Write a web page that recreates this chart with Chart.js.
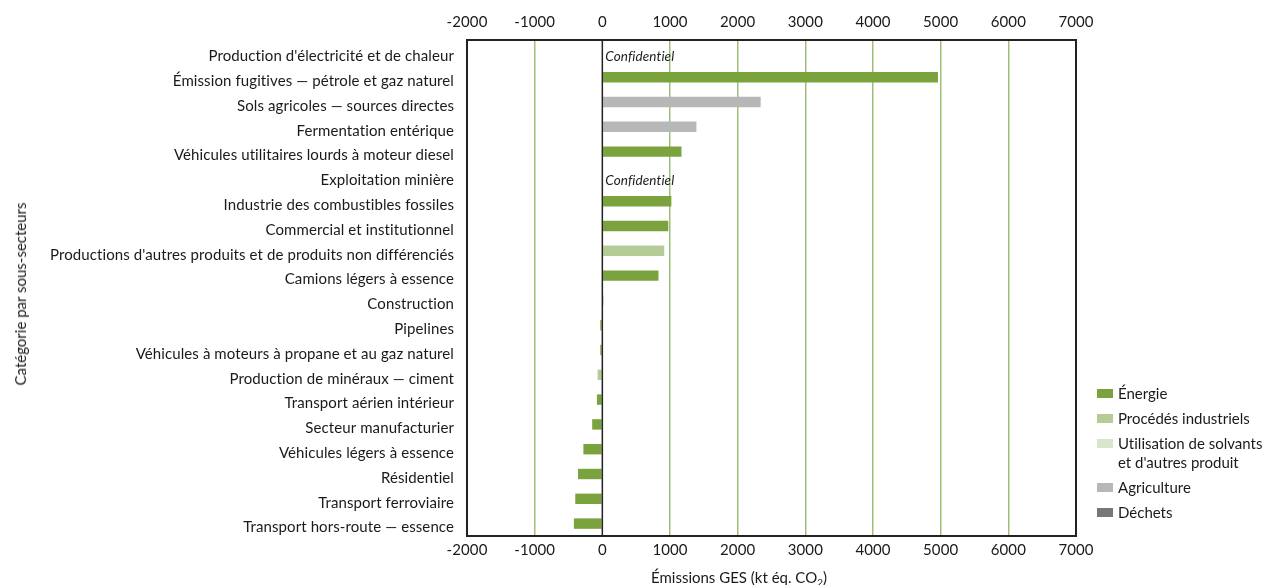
<!DOCTYPE html>
<html lang="fr">
<head>
<meta charset="utf-8">
<script src="https://cdn.jsdelivr.net/npm/chart.js@4/dist/chart.umd.min.js"></script>
<style>
  html, body { margin: 0; padding: 0; background: #fff; }
  #wrap { position: relative; width: 1265px; height: 585px; font-family: Lato, "Open Sans", sans-serif; color: #1a1a1a; font-variant-ligatures: none; }
  #c { position: absolute; left: 0; top: 0; }
  .ytitle { position: absolute; left: 20px; top: 294px; transform: translate(-50%, -50%) rotate(-90deg); font-size: 15px; font-weight: 400; white-space: nowrap; }
  .xtitle { position: absolute; left: 739px; top: 577px; transform: translate(-50%, -50%); font-size: 15px; white-space: nowrap; }
  .xtitle .sub { font-size: 10px; position: relative; top: 3px; }
  .legend { position: absolute; left: 1097px; top: 384px; font-size: 15px; line-height: 19px; }
  .legend .item { display: flex; align-items: flex-start; margin-bottom: 6px; }
  .legend .sw { width: 16px; height: 9px; margin-top: 5px; margin-right: 5px; flex: none; }
</style>
</head>
<body>
<div id="wrap">
  <canvas id="c" width="1265" height="585"></canvas>
  <div class="ytitle">Catégorie par sous-secteurs</div>
  <div class="xtitle">Émissions GES (kt éq. CO<span class="sub">2</span>)</div>
  <div class="legend" id="legend"></div>
</div>
<script>
// Sub-sector categories, top to bottom
const categories = [
  "Production d'électricité et de chaleur",
  "Émission fugitives — pétrole et gaz naturel",
  "Sols agricoles — sources directes",
  "Fermentation entérique",
  "Véhicules utilitaires lourds à moteur diesel",
  "Exploitation minière",
  "Industrie des combustibles fossiles",
  "Commercial et institutionnel",
  "Productions d'autres produits et de produits non différenciés",
  "Camions légers à essence",
  "Construction",
  "Pipelines",
  "Véhicules à moteurs à propane et au gaz naturel",
  "Production de minéraux — ciment",
  "Transport aérien intérieur",
  "Secteur manufacturier",
  "Véhicules légers à essence",
  "Résidentiel",
  "Transport ferroviaire",
  "Transport hors-route — essence"
];

// Emissions change (kt CO2 eq.) by sector; null where the category belongs to another sector
const energie = [null, 4960, null, null, 1170, null, 1020, 975, null, 830, 15, -30, -30, null, -80, -150, -280, -360, -400, -420];
const procedes = [null, null, null, null, null, null, null, null, 915, null, null, null, null, -70, null, null, null, null, null, null];
const solvants = new Array(20).fill(null);
const agriculture = [null, null, 2340, 1390, null, null, null, null, null, null, null, null, null, null, null, null, null, null, null, null];
const dechets = new Array(20).fill(null);

// Categories whose values are withheld
const confidentiel = [0, 5];

const xTicks = [-2000, -1000, 0, 1000, 2000, 3000, 4000, 5000, 6000, 7000];

const seriesNames = ["Énergie", "Procédés industriels", "Utilisation de solvants\net d'autres produit", "Agriculture", "Déchets"];
const seriesColors = ["#7aa33e", "#b5cc96", "#d9e6c9", "#b7b7b7", "#777777"];
const seriesData = [energie, procedes, solvants, agriculture, dechets];

const FONT = "Lato, 'Open Sans', sans-serif";
const TEXT = '#1a1a1a';

// a tiny letter spacing keeps Lato from joining "ti" / "fi" into ligatures
const textSetup = {
  id: 'textSetup',
  beforeInit(chart) { chart.ctx.letterSpacing = '0.1px'; },
  beforeDraw(chart) { chart.ctx.letterSpacing = '0.1px'; }
};

const frameAndLabels = {
  id: 'frameAndLabels',
  afterDatasetsDraw(chart) {
    const { ctx, chartArea: a, scales } = chart;
    ctx.save();
    // zero line
    const x0 = scales.x.getPixelForValue(0);
    ctx.strokeStyle = '#222';
    ctx.lineWidth = 1.5;
    ctx.beginPath();
    ctx.moveTo(x0, a.top);
    ctx.lineTo(x0, a.bottom);
    ctx.stroke();
    // plot frame
    ctx.lineWidth = 2;
    ctx.strokeRect(a.left, a.top, a.right - a.left, a.bottom - a.top);
    // "Confidentiel" notes
    ctx.fillStyle = '#222';
    ctx.font = "italic 13.5px " + FONT;
    ctx.textBaseline = 'middle';
    ctx.textAlign = 'left';
    confidentiel.forEach(i => {
      ctx.fillText('Confidentiel', x0 + 3, scales.y.getPixelForValue(i) + 4);
    });
    ctx.restore();
  }
};

const gridColor = (c) => {
  const v = c.tick && c.tick.value;
  if (v === -2000 || v === 7000 || v === 0) return 'rgba(0,0,0,0)';
  return '#9dbf78';
};

const plainTick = (v) => String(v);

new Chart(document.getElementById('c'), {
  type: 'bar',
  data: {
    labels: categories,
    datasets: seriesData.map((d, i) => ({
      label: seriesNames[i],
      data: d,
      backgroundColor: seriesColors[i],
      borderWidth: 0,
      barPercentage: 0.42,
      categoryPercentage: 1,
      xAxisID: 'x'
    }))
  },
  options: {
    indexAxis: 'y',
    responsive: false,
    animation: false,
    layout: { padding: { left: 0, right: 189, top: 0, bottom: 0 } },
    plugins: { legend: { display: false }, tooltip: { enabled: false } },
    scales: {
      x: {
        type: 'linear',
        position: 'bottom',
        min: -2000, max: 7000,
        afterBuildTicks: (s) => { s.ticks = xTicks.map(v => ({ value: v })); },
        afterFit: (s) => { s.height = 49; },
        grid: { color: gridColor, lineWidth: 1.5, drawTicks: false },
        border: { display: false },
        ticks: { color: TEXT, font: { family: FONT, size: 15 }, padding: 5, callback: plainTick }
      },
      x2: {
        type: 'linear',
        position: 'top',
        min: -2000, max: 7000,
        afterBuildTicks: (s) => { s.ticks = xTicks.map(v => ({ value: v })); },
        afterFit: (s) => { s.height = 40; },
        grid: { display: false, drawTicks: false },
        border: { display: false },
        ticks: { color: TEXT, font: { family: FONT, size: 15 }, padding: 9, callback: plainTick }
      },
      y: {
        stacked: true,
        afterFit: (s) => { s.width = 467; },
        grid: { display: false, drawTicks: false },
        border: { display: false },
        ticks: { color: TEXT, font: { family: FONT, size: 15 }, padding: 13, autoSkip: false, labelOffset: 4 }
      }
    }
  },
  plugins: [textSetup, frameAndLabels]
});

// Legend
const lg = document.getElementById('legend');
seriesNames.forEach((n, i) => {
  const it = document.createElement('div');
  it.className = 'item';
  const sw = document.createElement('div');
  sw.className = 'sw';
  sw.style.background = seriesColors[i];
  const tx = document.createElement('div');
  tx.innerHTML = n.replace('\n', '<br>');
  it.appendChild(sw);
  it.appendChild(tx);
  lg.appendChild(it);
});
</script>
</body>
</html>
